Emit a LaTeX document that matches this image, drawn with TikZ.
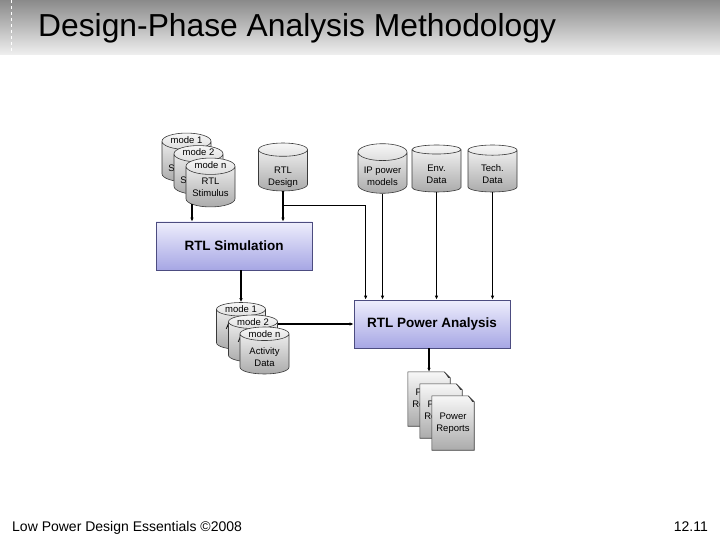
\documentclass[tikz,border=0pt]{standalone}
\usepackage{fontspec}
\setmainfont{Liberation Sans}
\usetikzlibrary{positioning, arrows.meta, shapes.geometric, calc}
\definecolor{cBanner}  {HTML}{8A8A8A}
\definecolor{cBoxTop}  {HTML}{EEEEFC}
\definecolor{cBoxBot}  {HTML}{A6A6E4}
\definecolor{cBoxLine} {HTML}{4C4C80}
\definecolor{cDbTop}   {HTML}{F7F7F7}
\definecolor{cDbBot}   {HTML}{ABABAB}
\definecolor{cDbLine}  {HTML}{3A3A3A}

\tikzset{
  db/.style={cylinder, shape border rotate=90, aspect=0.45, draw=cDbLine,
    line width=0.6pt, top color=cDbTop, bottom color=cDbBot,
    minimum width=49pt, minimum height=47pt, inner sep=0pt,
    anchor=shape center, font=\fontsize{9.5}{12}\selectfont},
  dblbl/.style={font=\fontsize{9.5}{10}\selectfont, inner sep=0pt},
  stage/.style={draw=cBoxLine, line width=0.7pt, top color=cBoxTop,
    bottom color=cBoxBot, minimum width=156pt, minimum height=48pt,
    font=\fontsize{13.5}{15}\selectfont\bfseries},
  docbox/.style={minimum width=42pt, minimum height=54pt, inner sep=0pt},
  doctext/.style={align=center, inner sep=0pt, font=\fontsize{9.5}{12}\selectfont},
  flow/.style={line width=1.3pt, -{Latex[length=4pt,width=3.5pt]}},
}
% two-line text, set a little lower in the cylinder body
\newcommand{\dbtext}[2][-4pt]{\raisebox{#1}[\height][\depth]{%
  \begin{tabular}{@{}c@{}}#2\end{tabular}}}
% page with a folded corner, then its text
\newcommand{\reportpage}[2]{%
  \path[draw=cDbLine, line width=0.6pt, top color=cDbTop, bottom color=cDbBot]
    (#1.south west) -- (#1.north west) -- ([xshift=-6pt]#1.north east)
    -- ([yshift=-6pt]#1.north east) -- (#1.south east) -- cycle;
  \fill[cDbLine] ([xshift=-6pt]#1.north east) -- ([xshift=-2pt,yshift=-6pt]#1.north east)
    -- ([yshift=-6pt]#1.north east) -- cycle;
  \node[doctext] (#1t) at (#1) {#2};
}

\begin{document}
\begin{tikzpicture}[x=1pt, y=-1pt]
  \useasboundingbox (0,0) rectangle (720,540);
  \fill[white] (0,0) rectangle (720,540);
  % title banner
  \shade[top color=cBanner, bottom color=white!94!black] (0,0) rectangle (720,55);
  \draw[white, dashed, line width=0.8pt] (11,0) -- (11,52);
  \node[anchor=base west, inner sep=0pt, font=\fontsize{31.8}{32}\selectfont] (title)
    at (38,37) {Design-Phase Analysis Methodology};

  % stimulus stack
  \node[db] (s1) at (186.5,157.5) {\dbtext[-1pt]{RTL\\Stimulus}};
  \node[dblbl] (s1m) at ([yshift=-7pt]s1.north) {mode 1};
  \node[db] (s2) at (198.5,170) {\dbtext[-1pt]{RTL\\Stimulus}};
  \node[dblbl] (s2m) at ([yshift=-7pt]s2.north) {mode 2};
  \node[db] (s3) at (210.5,182.5) {\dbtext[-1pt]{RTL\\Stimulus}};
  \node[dblbl] (s3m) at ([yshift=-7pt]s3.north) {mode n};

  % input data
  \node[db, minimum height=48pt] (design) at (283,167) {\dbtext[-7pt]{RTL\\Design}};
  \node[db] (ip)     at (382.5,168.5) {\dbtext{IP power\\models}};
  \node[db] (env)    at (436.5,168.5) {\dbtext{Env.\\Data}};
  \node[db] (tech)   at (492.5,168.5) {\dbtext{Tech.\\Data}};

  % stages
  \node[stage] (sim) at (234,246) {RTL Simulation};
  \node[stage] (pa)  at (432,324) {RTL Power Analysis};

  % activity stack
  \node[db] (a1) at (241,326) {\dbtext{Activity\\Data}};
  \node[dblbl] (a1m) at ([yshift=-7pt]a1.north) {mode 1};
  \node[db] (a2) at (253,338.5) {\dbtext{Activity\\Data}};
  \node[dblbl] (a2m) at ([yshift=-7pt]a2.north) {mode 2};
  \node[db] (a3) at (264.5,350.5) {\dbtext{Activity\\Data}};
  \node[dblbl] (a3m) at ([yshift=-7pt]a3.north) {mode n};

  % reports
  \node[docbox] (r1) at (429,399) {};
  \reportpage{r1}{Power\\Reports}
  \node[docbox] (r2) at (441,411) {};
  \reportpage{r2}{Power\\Reports}
  \node[docbox] (r3) at (453,423) {};
  \reportpage{r3}{Power\\Reports}

  % connectors
  \draw[flow] ([xshift=-18.5pt,yshift=3pt]s3.south) -- ([xshift=-18.5pt]s3.south |- sim.north);
  \draw[flow] (design.south) -- (design.south |- sim.north);
  \coordinate (tap) at ($(design.south)+(0,14)$);
  \draw[flow] (tap) -| ([xshift=12pt]pa.north west);
  \foreach \src in {ip, env, tech}
    \draw[flow] (\src.south) -- (\src.south |- pa.north);
  \draw[flow] (a1.north |- sim.south) -- (a1.north);
  \draw[flow] (a2.east |- pa.west) -- (pa.west);
  \draw[flow] (r1.north |- pa.south) -- (r1.north);

  % footer
  \node[anchor=base west, inner sep=0pt, font=\fontsize{14}{14}\selectfont] (foot)
    at (12,531) {Low Power Design Essentials ©2008};
  \node[anchor=base east, inner sep=0pt, font=\fontsize{14}{14}\selectfont] (pageno)
    at (708,531) {12.11};
\end{tikzpicture}
\end{document}
